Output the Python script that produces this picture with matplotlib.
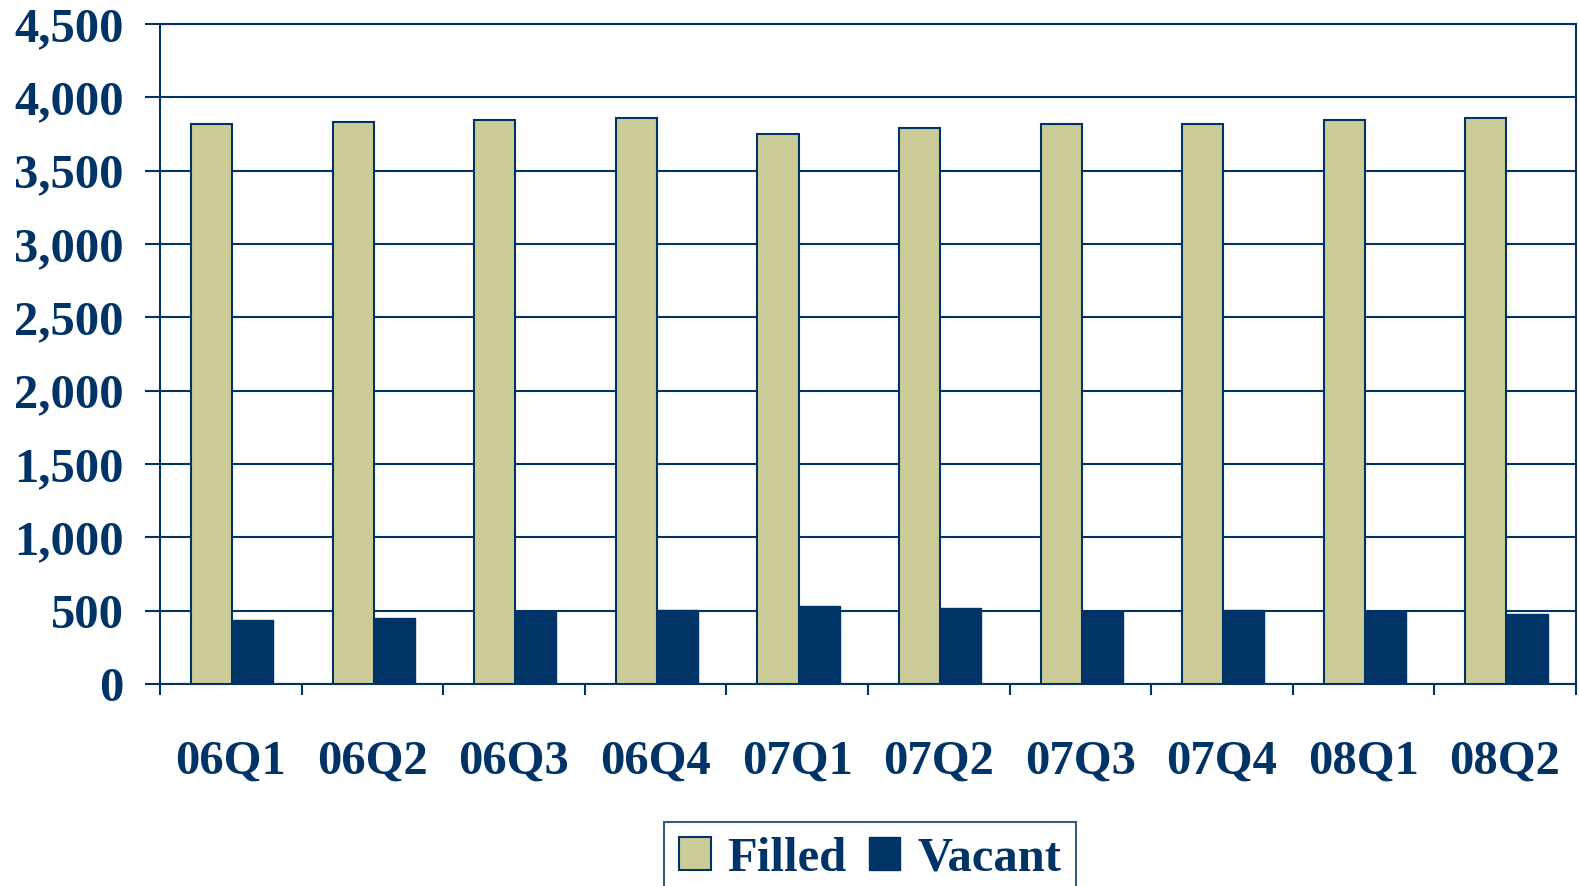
import numpy as np
import matplotlib
matplotlib.use('Agg')
import matplotlib.pyplot as plt
from matplotlib.ticker import FuncFormatter, MultipleLocator

NAVY = '#003366'
BEIGE = '#CCCC99'

quarters = ['06Q1', '06Q2', '06Q3', '06Q4', '07Q1', '07Q2', '07Q3', '07Q4', '08Q1', '08Q2']
filled = [3820, 3832, 3846, 3857, 3752, 3791, 3820, 3820, 3846, 3857]
vacant = [437, 451, 492, 503, 533, 519, 492, 503, 492, 478]

plt.rcParams['font.family'] = ['Liberation Serif', 'DejaVu Serif']
plt.rcParams['font.weight'] = 'bold'

fig = plt.figure(figsize=(15.79, 8.86), dpi=100)
ax = fig.add_axes([160 / 1579, 1 - 684 / 886, 1 - 160 / 1579 - 0.002, (684 - 24) / 886])

x = np.arange(len(quarters))
w = 0.29
ax.bar(x - w / 2 + 0.01, filled, w, color=BEIGE, edgecolor=NAVY, linewidth=1.5, label='Filled', zorder=3)
ax.bar(x + w / 2 + 0.01, vacant, w, color=NAVY, edgecolor=NAVY, linewidth=1.0, label='Vacant', zorder=3)

ax.set_xlim(-0.5, len(quarters) - 0.5)
ax.set_ylim(0, 4500)
ax.yaxis.set_major_locator(MultipleLocator(500))
ax.yaxis.set_major_formatter(FuncFormatter(lambda v, p: f'{int(v):,}'))
ax.grid(axis='y', color=NAVY, linewidth=1.5, zorder=0)

ax.set_xticks(x)
ax.set_xticklabels(quarters)
ax.set_xticks(np.arange(-0.5, len(quarters)), minor=True)
ax.tick_params(axis='x', which='major', length=0, pad=40, labelsize=35, labelcolor=NAVY)
ax.tick_params(axis='x', which='minor', length=8, width=1.5, color=NAVY)
ax.tick_params(axis='y', length=11, width=1.5, color=NAVY, pad=15, labelsize=35, labelcolor=NAVY)
for lab in ax.get_xticklabels() + ax.get_yticklabels():
    lab.set_fontweight('bold')

for s in ax.spines.values():
    s.set_color(NAVY)
    s.set_linewidth(1.5)

leg = fig.legend(loc='upper center', bbox_to_anchor=(864 / 1568, 1 - 822 / 886), ncol=2,
                 frameon=True, fancybox=False, fontsize=35, handlelength=0.65, handleheight=0.65,
                 columnspacing=0.45, handletextpad=0.35, borderpad=0.3, borderaxespad=0)
leg.get_frame().set_edgecolor(NAVY)
leg.get_frame().set_linewidth(1.5)
for t in leg.get_texts():
    t.set_color(NAVY)
    t.set_fontweight('bold')

fig.savefig('out.png', dpi=100)
